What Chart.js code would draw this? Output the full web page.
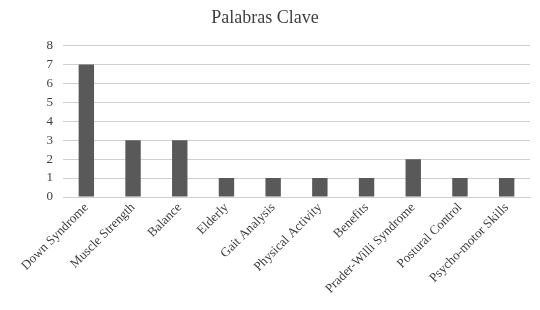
<!DOCTYPE html>
<html>
<head>
<meta charset="utf-8">
<script src="https://cdn.jsdelivr.net/npm/chart.js@4"></script>
<style>
  html, body { margin: 0; padding: 0; background: #fff; }
  #wrap { width: 540px; height: 310px; }
</style>
</head>
<body>
<div id="wrap"><canvas id="chart" width="540" height="310"></canvas></div>
<script>
// data
const categories = [
    "Down Syndrome", "Muscle Strength", "Balance", "Elderly", "Gait Analysis",
    "Physical Activity", "Benefits", "Prader-Willi Syndrome", "Postural Control",
    "Psycho-motor Skills"
];
const counts = [7, 3, 3, 1, 1, 1, 1, 2, 1, 1];
const yTicks = [0, 1, 2, 3, 4, 5, 6, 7, 8];

const FONT = "'Liberation Serif', 'DejaVu Serif', serif";

const ctx = document.getElementById("chart").getContext("2d");

new Chart(ctx, {
    type: "bar",
    data: {
        labels: categories,
        datasets: [{
            label: "Palabras Clave",
            data: counts,
            backgroundColor: "#595959",
            barPercentage: 0.33,
            categoryPercentage: 1
        }]
    },
    options: {
        responsive: false,
        animation: false,
        devicePixelRatio: 1,
        layout: { padding: { left: 0, right: 10, top: 0, bottom: 0 } },
        plugins: {
            legend: { display: false },
            tooltip: { enabled: false },
            title: {
                display: true,
                text: "Palabras Clave",
                color: "#404040",
                font: { family: FONT, size: 18, weight: "normal" },
                padding: { top: 7, bottom: 17 }
            }
        },
        scales: {
            x: {
                grid: { display: false, drawTicks: false },
                border: { display: true, color: "#d0d0d0" },
                ticks: {
                    color: "#404040",
                    font: { family: FONT, size: 13 },
                    maxRotation: 45,
                    minRotation: 45,
                    autoSkip: false,
                    padding: 3
                },
                afterFit: s => { s.height = 113; }
            },
            y: {
                min: 0,
                max: 8,
                afterBuildTicks: s => { s.ticks = yTicks.map(v => ({ value: v })); },
                grid: { color: "#d0d0d0", drawTicks: false },
                border: { display: false },
                ticks: {
                    color: "#404040",
                    font: { family: FONT, size: 13 },
                    padding: 10
                },
                afterFit: s => { s.width = 63; }
            }
        }
    }
});
</script>
</body>
</html>
